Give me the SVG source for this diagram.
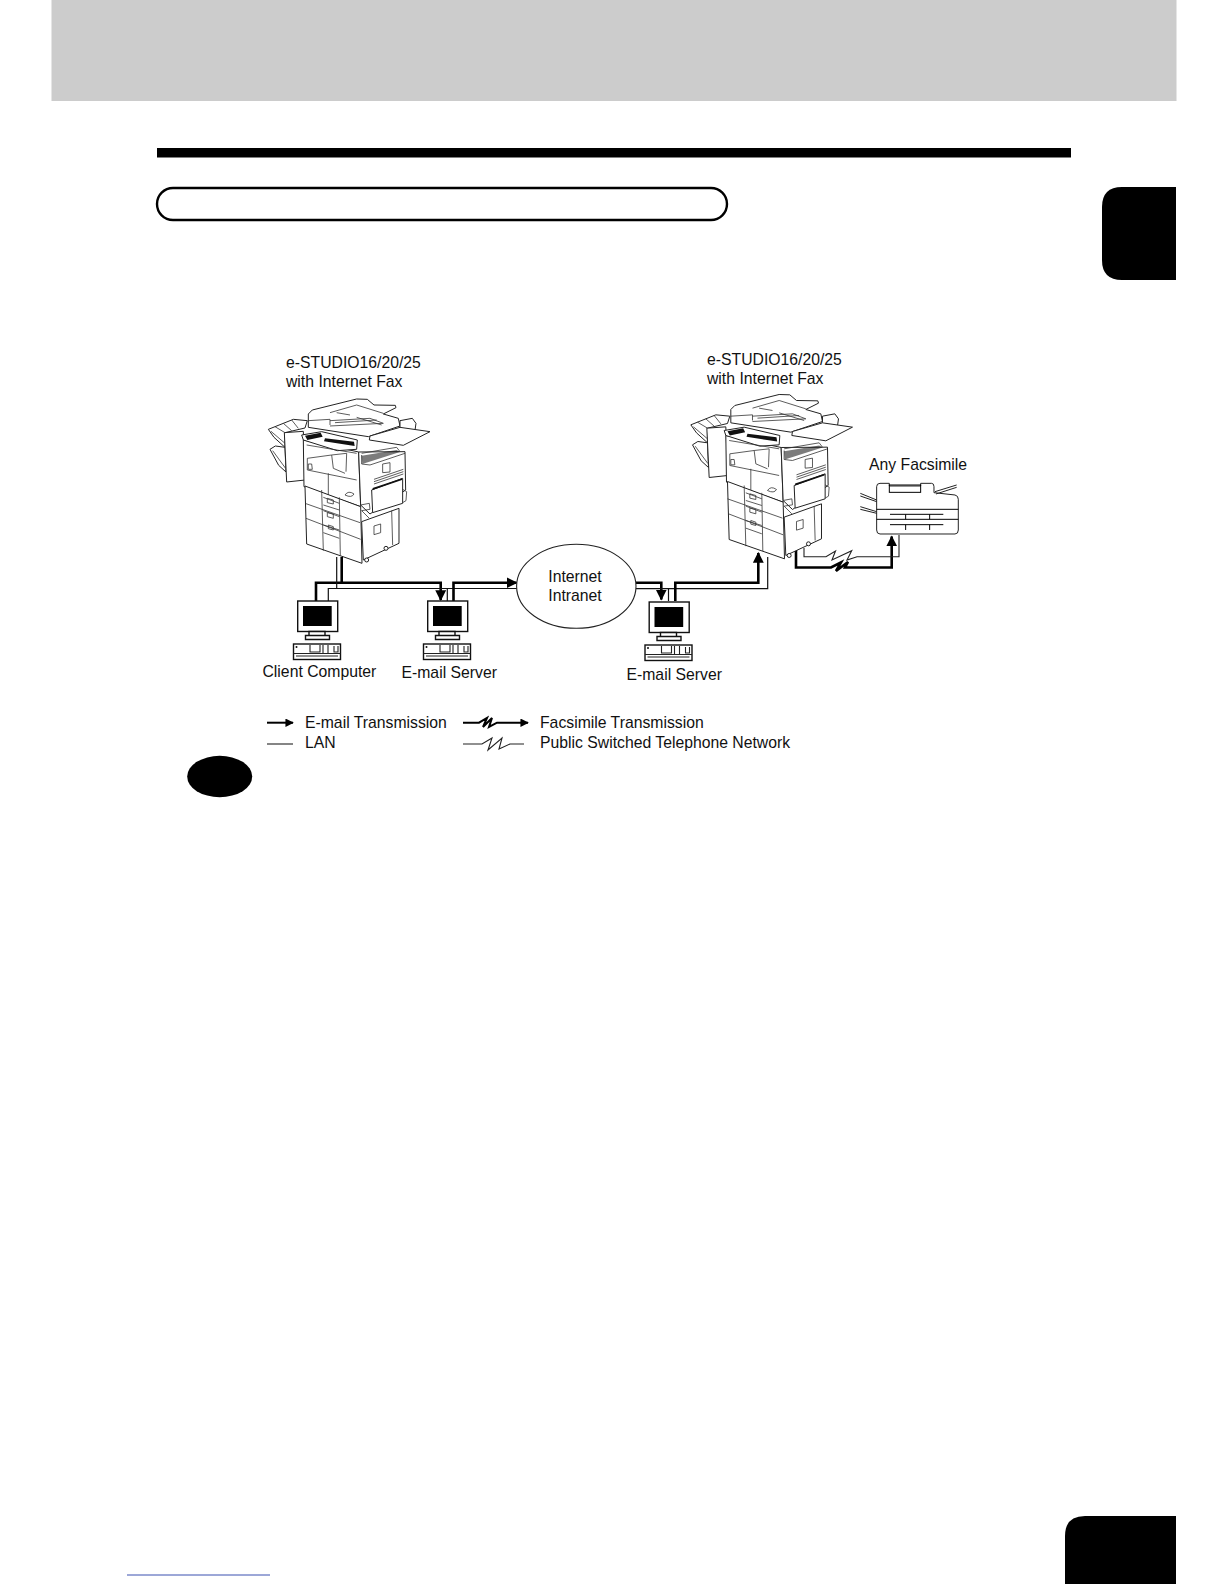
<svg xmlns="http://www.w3.org/2000/svg" xmlns:xlink="http://www.w3.org/1999/xlink" width="1224" height="1584" viewBox="0 0 1224 1584">
<style>
text{font-family:"Liberation Sans",Arial,sans-serif;font-size:15.75px;fill:#111}
.thick{fill:none;stroke:#000;stroke-width:2.6}
.thin{fill:none;stroke:#111;stroke-width:1.2}
.hair{fill:none;stroke:#222;stroke-width:1.1}
.p{fill:#fff;stroke:#222;stroke-width:3;stroke-linejoin:round}
.l{fill:none;stroke:#333;stroke-width:2.4}
.d{fill:#111;stroke:none}
.o{fill:#fff;stroke:#111;stroke-width:1.4}
.k{fill:#000}
</style>
<defs>
<marker id="ah" viewBox="0 0 10 10" refX="9" refY="5" markerWidth="4.2" markerHeight="4.2" orient="auto"><path d="M0 0L10 5L0 10Z" fill="#000"/></marker>
<g id="printer" transform="scale(.3333)">
<path class="p" d="M55 118L130 88L172 92L165 114L105 128L105 172L72 142Z"/>
<path class="l" d="M63 124L105 160M75 110L105 128M100 100L125 122M125 90L145 115"/>
<path class="p" d="M60 178L76 168L105 172L108 246L86 226Z"/>
<path class="l" d="M68 182L106 234"/>
<path class="p" d="M103 128L160 124L166 270L110 276Z"/>
<path class="p" d="M175 72L187 60L320 27L352 28L372 45L436 46L438 53L400 72L445 85L450 108L355 140L175 112Z"/>
<path class="l" d="M175 92L240 88L240 105M240 68L320 45L400 70M260 68L300 75M240 92L360 85L400 100L240 108M320 82L395 105M255 98L380 90"/>
<path class="p" d="M450 92L487 85L498 100L495 122L462 127L450 112Z"/>
<path class="p" d="M450 112L540 125L460 166L358 150L360 138Z"/>
<path class="p" d="M160 150L326 186L332 350L162 290Z"/>
<path class="p" d="M326 186L465 185L467 300L360 372L332 345Z"/>
<path class="p" d="M155 135L215 125L322 150L320 178L262 182L160 150Z"/>
<path class="d" d="M165 137L212 128L218 140L172 150ZM225 145L312 155L314 168L222 154Z"/>
<path class="l" d="M170 165L320 190M172 205L245 195L250 235L285 250M172 205L172 240L320 270M235 250L235 320M245 195L290 190L288 245M175 222L185 222L187 238L175 238Z"/>
<path class="l" d="M335 190L440 172L450 185M335 195L335 222L360 225L465 190"/>
<path class="d" d="M335 197L440 180L450 186L337 222Z" opacity=".55"/>
<path class="l" d="M398 222L420 218L420 246L398 248ZM372 268L460 238M372 275L460 245M372 282L460 252"/>
<path class="p" d="M365 300L458 265L458 340L368 368Z"/>
<path class="d" d="M368 294L456 265L456 270L368 300Z"/>
<path class="l" d="M458 298L470 305L468 332L458 338M285 315Q295 300 312 312Q305 325 285 315Z"/>
<path class="p" d="M165 288L332 350L336 520L170 462Z"/>
<path class="p" d="M335 395L447 355L447 460L340 510Z"/>
<path class="l" d="M215 300L220 482M268 322L271 497M165 340L330 398M168 385L332 448M220 322L268 340M220 345L268 360M220 362L268 380M220 405L268 420M220 428L268 445M232 325L250 330L250 342L232 338ZM232 368L250 372L250 385L232 380ZM235 405L250 410L250 420L235 416ZM372 408L392 402L392 428L372 434ZM332 345L358 340L360 358L335 362L358 385M425 362L428 465"/>
<circle class="p" cx="350" cy="510" r="6"/><circle class="p" cx="408" cy="475" r="6"/>
</g>
<g id="pc">
<rect class="o" x="297.7" y="601" width="40" height="30.5"/>
<rect class="k" x="303" y="606" width="28.7" height="20"/>
<path class="o" d="M309 631.5H325V635.5H309ZM305.5 635.5H329.5V639.5H305.5Z"/>
<rect class="o" x="293.5" y="644" width="47" height="15.5"/>
<path class="hair" d="M293.5 653.5H340.5M296 656H338M310 645V652H320V645M323 645V653M328 645V653M334 646V652H338V646"/>
<circle cx="296.5" cy="647" r="1" fill="#111"/>
</g>
</defs>

<g id="page">
<rect x="51.5" y="0" width="1125" height="101" fill="#cccccc"/>
<rect x="157" y="148" width="914" height="9.5" fill="#000"/>
<rect x="157" y="188" width="570" height="32" rx="16" fill="#fff" stroke="#000" stroke-width="2.4"/>
<path d="M1176 187H1122Q1102 187 1102 207V260Q1102 280 1122 280H1176Z" fill="#000"/>
<path d="M1176 1516H1085Q1065 1516 1065 1536V1584H1176Z" fill="#000"/>
<path d="M127 1575H270" stroke="#3a50b0" stroke-width="1" fill="none"/>
<ellipse cx="219.7" cy="776.5" rx="32.5" ry="20.7" fill="#000"/>
</g>

<g id="connectors">
<path class="thick" d="M316 601V582.7H440.7V600" marker-end="url(#ah)"/>
<path class="thick" d="M341.7 557V582.7"/>
<path class="thin" d="M336.7 557V588.5M328.3 601V588.5H447.3V601M447.3 588.5H517"/>
<path class="thick" d="M453.5 601V582.7H516.5" marker-end="url(#ah)"/>
<path class="thick" d="M636 582.7H661.3V599.5" marker-end="url(#ah)"/>
<path class="thin" d="M636 588.7H668.5V601M668.5 588.7H767.7V557"/>
<path class="thick" d="M675.3 601V582.7H758.3V553" marker-end="url(#ah)"/>
<path class="thick" d="M796 549V567.5H831L841 562.5L836 571L848 562L845 567.5H891.7V536.5" marker-end="url(#ah)"/>
<path class="hair" d="M804 548V556.7H826L835.5 551L832 560L851.7 550.7L847 560L857 556.7H899V535"/>
</g>

<g id="printer-left"><use href="#printer" xlink:href="#printer" transform="translate(250 390)"/></g>
<g id="printer-right"><use href="#printer" xlink:href="#printer" transform="translate(672.5 385.5)"/></g>

<g id="client-computer"><use href="#pc" xlink:href="#pc"/></g>
<g id="email-server-1"><use href="#pc" xlink:href="#pc" x="130"/></g>
<g id="email-server-2"><use href="#pc" xlink:href="#pc" x="351.5" y="1"/></g>

<g id="cloud"><ellipse cx="576.3" cy="586.3" rx="59.7" ry="42" fill="#fff" stroke="#222" stroke-width="1.1"/>
<text x="575" y="582" text-anchor="middle">Internet</text>
<text x="575" y="601" text-anchor="middle">Intranet</text></g>

<g id="fax">
<path class="p" transform="translate(740 450) scale(.3333)" d="M410 110Q410 100 420 100H448V108H542V100H575Q582 100 582 110V128L645 135Q655 137 655 148V240Q655 252 645 252H420Q410 252 410 240Z"/>
<g transform="translate(740 450) scale(.3333)">
<rect class="l" x="448" y="105" width="94" height="22" style="stroke:#000;stroke-width:3"/>
<path class="l" d="M410 178H655M410 208H655M450 193H610M450 224H610M497 193V208M569 193V208M497 224V240M569 224V240" style="stroke:#000;stroke-width:3"/>
<path class="l" d="M361 130L410 150M361 138L410 155M361 170L410 185M361 178L410 190M585 125L650 105M588 132L650 112" style="stroke:#222;stroke-width:3"/>
</g>
</g>

<g id="labels">
<text x="286" y="368">e-STUDIO16/20/25</text>
<text x="286" y="387">with Internet Fax</text>
<text x="707" y="365">e-STUDIO16/20/25</text>
<text x="707" y="384">with Internet Fax</text>
<text x="869" y="470">Any Facsimile</text>
<text x="262.5" y="677">Client Computer</text>
<text x="401.5" y="678">E-mail Server</text>
<text x="626.5" y="680">E-mail Server</text>
</g>

<g id="legend">
<path class="thick" d="M267 722.7H293" marker-end="url(#ah)" style="stroke-width:2"/>
<path class="hair" d="M267 744H293"/>
<path class="thick" d="M463 722.7H479L487 718L483 727L492 718L489 727L497 722.7H528" marker-end="url(#ah)" style="stroke-width:2"/>
<path class="hair" d="M463 744H482L492 738L488 750L502 738L499 749L510 744H524"/>
<text x="305" y="728">E-mail Transmission</text>
<text x="305" y="748">LAN</text>
<text x="540" y="728">Facsimile Transmission</text>
<text x="540" y="748">Public Switched Telephone Network</text>
</g>
</svg>
